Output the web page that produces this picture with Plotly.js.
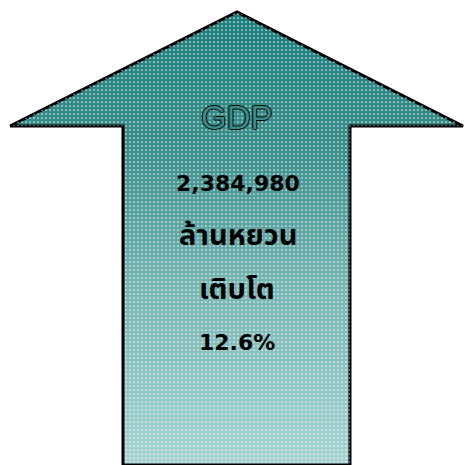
<!DOCTYPE html>
<html><head><meta charset="utf-8">
<script src="https://cdn.plot.ly/plotly-3.0.1.min.js"></script>
<style>html,body{margin:0;padding:0;background:#fff}#c{width:465px;height:465px}</style>
</head><body><div id="c"></div>
<script>
// Arrow outline (pixel-like units, y downwards)
const arrowX = [10, 237, 463, 350, 350, 123, 123, 10];
const arrowY = [126, 12, 126, 126, 465, 465, 126, 126];
// Texts
const labelTitle = 'GDP';
const gdpValue = '2,384,980';
const gdpUnit = 'ล้านหยวน';
const growthLabel = 'เติบโต';
const growthValue = '12.6%';
const textY = [117, 183, 236, 290, 342];

const traces = [
  {x: arrowX, y: arrowY, type: 'scatter', mode: 'lines', fill: 'toself',
   line: {color: '#000', width: 3},
   fillgradient: {type: 'vertical', start: 12, stop: 465,
     colorscale: [[0, '#1d7f7c'], [0.3, '#3b8f8b'], [0.6, '#76b5b2'], [1, '#a7d4d2']]},
   hoverinfo: 'skip', showlegend: false},
  {x: arrowX, y: arrowY, type: 'scatter', mode: 'none', fill: 'toself',
   fillcolor: 'rgba(0,0,0,0)',
   fillpattern: {shape: '.', fgcolor: 'rgba(255,255,255,0.8)', bgcolor: 'rgba(0,0,0,0)', size: 4, solidity: 0.15},
   hoverinfo: 'skip', showlegend: false}
];

const thaiFont = 'Noto Sans Thai, Noto Sans, Tahoma, sans-serif';
const annotations = [
  {x: 237, y: textY[0], text: labelTitle, showarrow: false,
   font: {family: 'Liberation Sans, Arial, sans-serif', size: 33, color: '#3a8c88', weight: 300,
     shadow: '-1px 0 0 #000, 1px 0 0 #000, 0 -1px 0 #000, 0 1px 0 #000'}},
  {x: 238, y: textY[1], text: '<b>' + gdpValue + '</b>', showarrow: false,
   font: {family: 'DejaVu Sans, sans-serif', size: 22, color: '#000', weight: 'bold'}},
  {x: 238, y: textY[2], text: '<b>' + gdpUnit + '</b>', showarrow: false,
   font: {family: thaiFont, size: 29, color: '#000', weight: 'bold'}},
  {x: 237, y: textY[3], text: '<b>' + growthLabel + '</b>', showarrow: false,
   font: {family: thaiFont, size: 29, color: '#000', weight: 'bold'}},
  {x: 237, y: textY[4], text: '<b>' + growthValue + '</b>', showarrow: false,
   font: {family: 'DejaVu Sans, sans-serif', size: 22, color: '#000', weight: 'bold'}}
];

const layout = {
  width: 465, height: 465,
  margin: {l: 0, r: 0, t: 0, b: 0},
  paper_bgcolor: '#fff', plot_bgcolor: '#fff',
  xaxis: {range: [0, 465], visible: false, fixedrange: true},
  yaxis: {range: [465, 0], visible: false, fixedrange: true},
  annotations: annotations,
  showlegend: false
};
Plotly.newPlot('c', traces, layout, {staticPlot: true, displayModeBar: false});
</script></body></html>
